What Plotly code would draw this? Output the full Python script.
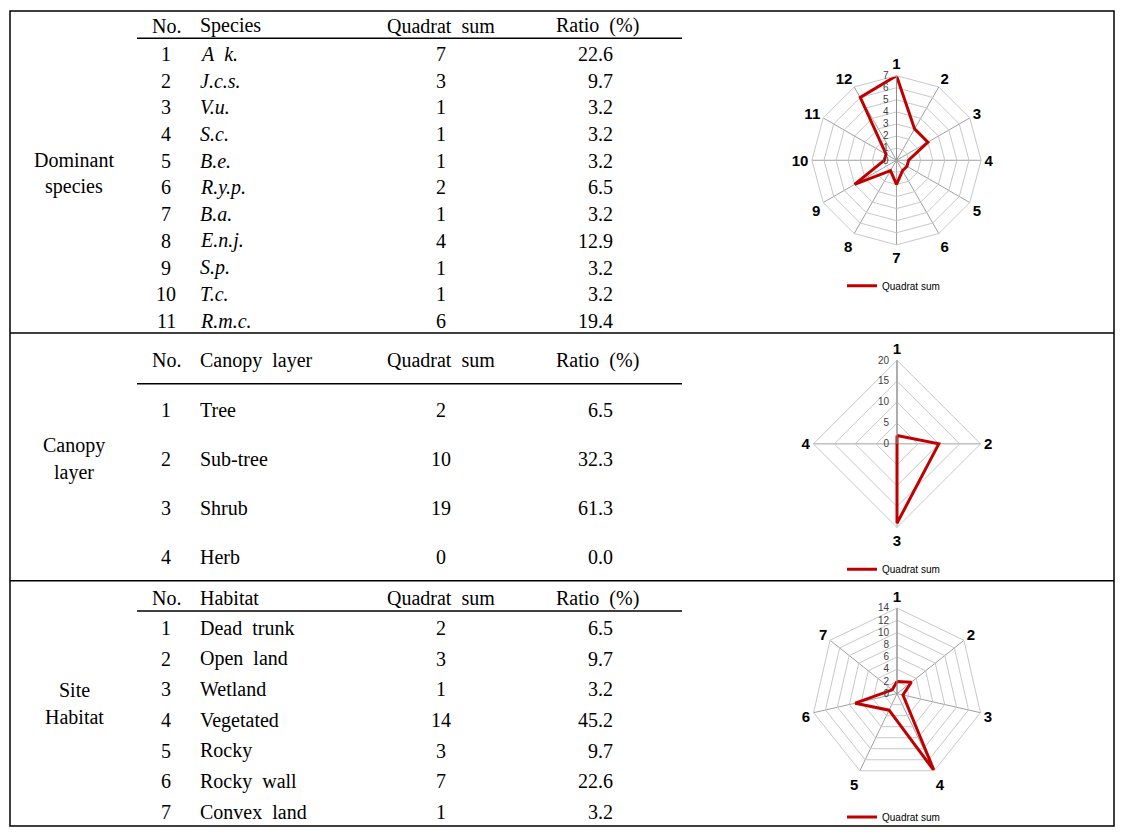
import plotly.graph_objects as go

# page body has an 8px margin: the figure is sized to fit inside it
OFF = 8
W, H = 1124 - 2 * OFF, 840 - 2 * OFF

# ---------------- data ----------------
species_no = list(range(1, 12))
species_names = ["A\u00a0\u00a0k.", "J.c.s.", "V.u.", "S.c.", "B.e.", "R.y.p.", "B.a.", "E.n.j.", "S.p.", "T.c.", "R.m.c."]
species_quadrat = [7, 3, 1, 1, 1, 2, 1, 4, 1, 1, 6]
species_ratio = [22.6, 9.7, 3.2, 3.2, 3.2, 6.5, 3.2, 12.9, 3.2, 3.2, 19.4]

canopy_no = [1, 2, 3, 4]
canopy_names = ["Tree", "Sub-tree", "Shrub", "Herb"]
canopy_quadrat = [2, 10, 19, 0]
canopy_ratio = [6.5, 32.3, 61.3, 0.0]

habitat_no = list(range(1, 8))
habitat_names = ["Dead\u00a0\u00a0trunk", "Open\u00a0\u00a0land", "Wetland", "Vegetated", "Rocky",
                 "Rocky\u00a0\u00a0wall", "Convex\u00a0\u00a0land"]
habitat_quadrat = [2, 3, 1, 14, 3, 7, 1]
habitat_ratio = [6.5, 9.7, 3.2, 45.2, 9.7, 22.6, 3.2]

section_labels = [["Dominant", "species"], ["Canopy", "layer"], ["Site", "Habitat"]]
column_headers = [["No.", "Species", "Quadrat\u00a0\u00a0sum", "Ratio\u00a0\u00a0(%)"],
                  ["No.", "Canopy\u00a0\u00a0layer", "Quadrat\u00a0\u00a0sum", "Ratio\u00a0\u00a0(%)"],
                  ["No.", "Habitat", "Quadrat\u00a0\u00a0sum", "Ratio\u00a0\u00a0(%)"]]

radar1_axes = [str(i) for i in range(1, 13)]
radar1_values = [7, 3, 3, 1, 1, 1, 2, 1, 4, 1, 1, 6]
radar2_axes = [str(i) for i in range(1, 5)]
radar2_values = [2, 10, 19, 0]
radar3_axes = [str(i) for i in range(1, 8)]
radar3_values = [2, 3, 1, 14, 3, 7, 1]
series_name = "Quadrat sum"

# ---------------- helpers ----------------
def px(x):
    return (x - OFF) / W

def py(y):
    return 1 - (y - OFF) / H

SERIF = "Liberation Serif, Times New Roman, serif"
SANS = "Liberation Sans, Arial, sans-serif"
TXT = dict(family=SERIF, size=20, color="black")

annotations = []
shapes = []

def text(x, y, s, anchor="center", italic=False):
    annotations.append(dict(
        x=px(x), y=py(y), xref="paper", yref="paper", text=("<i>%s</i>" % s) if italic else s,
        showarrow=False, xanchor=anchor, yanchor="middle", font=TXT))

def hline(x0, x1, y, w=1.5):
    shapes.append(dict(type="line", xref="paper", yref="paper", x0=px(x0), x1=px(x1),
                       y0=py(y), y1=py(y), line=dict(color="black", width=w)))

COL_NO, COL_NAME, COL_Q, COL_R = 166, 198, 441, 615

sections = [
    dict(no=species_no, names=species_names, q=species_quadrat, r=species_ratio,
         head_y=26, line_y=38.5, row0=54, step=26.87, label_y=(160.5, 187.5), italic=True),
    dict(no=canopy_no, names=canopy_names, q=canopy_quadrat, r=canopy_ratio,
         head_y=362, line_y=385.5, row0=411.5, step=49.5, label_y=(447.5, 474.5), italic=False),
    dict(no=habitat_no, names=habitat_names, q=habitat_quadrat, r=habitat_ratio,
         head_y=601, line_y=614, row0=631, step=30.83, label_y=(693.5, 720.5), italic=False),
]

for si, sec in enumerate(sections):
    hdr = column_headers[si]
    text(COL_NO, sec["head_y"], hdr[0])
    text(COL_NAME, sec["head_y"], hdr[1], anchor="left")
    text(COL_Q, sec["head_y"], hdr[2])
    text(597, sec["head_y"], hdr[3])
    hline(137, 682, sec["line_y"], 1.5)
    for i in range(len(sec["no"])):
        y = sec["row0"] + i * sec["step"]
        text(COL_NO, y, str(sec["no"][i]))
        text(COL_NAME, y, sec["names"][i], anchor="left", italic=sec["italic"])
        text(COL_Q, y, str(sec["q"][i]))
        text(COL_R, y, "%.1f" % sec["r"][i], anchor="right")
    text(74, sec["label_y"][0], section_labels[si][0])
    text(74, sec["label_y"][1], section_labels[si][1])

# outer border and separators
shapes.append(dict(type="rect", xref="paper", yref="paper", x0=px(10), x1=px(1114),
                   y0=py(830), y1=py(11), line=dict(color="black", width=1.5)))
hline(10, 1114, 334.5, 1.5)
hline(10, 1114, 583.5, 1.5)

# ---------------- radar charts ----------------
RED = "#c00000"
fig = go.Figure()

radars = [
    dict(axes=radar1_axes, vals=radar1_values, cx=896.5, cy=161, R=85, rmax=7, dtick=1, sub="polar", leg="legend", ly=287),
    dict(axes=radar2_axes, vals=radar2_values, cx=897, cy=446, R=84, rmax=20, dtick=5, sub="polar2", leg="legend2", ly=572),
    dict(axes=radar3_axes, vals=radar3_values, cx=897, cy=697, R=86, rmax=14, dtick=2, sub="polar3", leg="legend3", ly=821),
]

layout_extra = {}
for rd in radars:
    fig.add_trace(go.Scatterpolar(
        r=rd["vals"] + rd["vals"][:1], theta=rd["axes"] + rd["axes"][:1],
        mode="lines", line=dict(color=RED, width=3), name=series_name,
        subplot=rd["sub"], legend=rd["leg"], showlegend=True))
    layout_extra[rd["sub"]] = dict(
        domain=dict(x=[px(rd["cx"] - rd["R"]), px(rd["cx"] + rd["R"])],
                    y=[py(rd["cy"] + rd["R"]), py(rd["cy"] - rd["R"])]),
        bgcolor="rgba(0,0,0,0)",
        gridshape="linear",
        radialaxis=dict(range=[0, rd["rmax"]], dtick=rd["dtick"], angle=90, side="counterclockwise",
                        showline=True, linecolor="#8c8c8c", linewidth=1, gridcolor="#c8c8c8",
                        ticks="outside", ticklen=4, tickcolor="rgba(0,0,0,0)",
                        tickfont=dict(family=SANS, size=10, color="#404040"), tickangle=90),
        angularaxis=dict(type="category", categoryarray=rd["axes"], direction="clockwise", rotation=90,
                         showline=True, linecolor="#c8c8c8", linewidth=1, gridcolor="#a0a0a0",
                         ticks="", tickfont=dict(family=SANS, size=15, color="black", weight="bold")),
    )
    layout_extra[rd["leg"]] = dict(
        x=px(842), y=py(rd["ly"]), xanchor="left", yanchor="middle", bgcolor="rgba(0,0,0,0)",
        font=dict(family=SANS, size=10, color="black"), itemwidth=30, borderwidth=0)

fig.update_layout(
    width=W, height=H, autosize=False,
    margin=dict(l=0, r=0, t=0, b=0),
    paper_bgcolor="white", plot_bgcolor="white",
    annotations=annotations, shapes=shapes,
    **layout_extra,
)

fig.write_html("out.html")
